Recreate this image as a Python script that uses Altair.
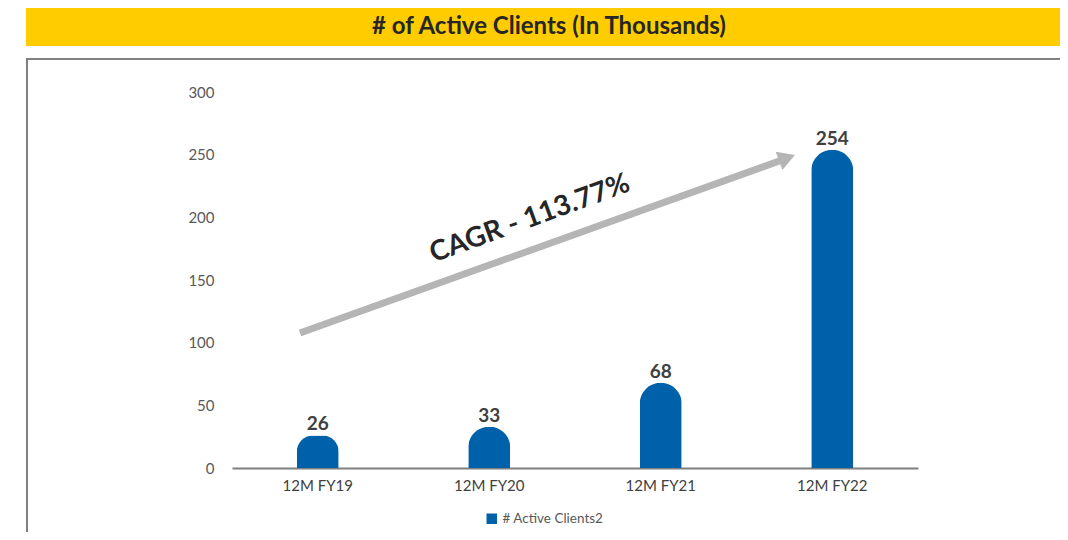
import altair as alt
import pandas as pd

# ---- data ----
categories = ["12M FY19", "12M FY20", "12M FY21", "12M FY22"]
clients = [26, 33, 68, 254]
series_name = ["# Active Clients2"] * len(categories)
y_ticks = [0, 50, 100, 150, 200, 250, 300]
title_text = "# of Active Clients (In Thousands)"
cagr_text = "CAGR - 113.77%"

df = pd.DataFrame({"period": categories, "clients": clients, "series": series_name})
one = pd.DataFrame({"k": [0]})

FONT = "Lato"
W, H = 686, 376

x_enc = alt.X(
    "period:N", sort=categories,
    scale=alt.Scale(paddingInner=0, paddingOuter=0),
    axis=alt.Axis(title=None, labelAngle=0, ticks=False, domainColor="#7f7f7f",
                  domainWidth=2, labelFont=FONT, labelFontSize=15,
                  labelColor="#404040", labelPadding=10),
)
y_enc = alt.Y(
    "clients:Q", scale=alt.Scale(domain=[0, 300]),
    axis=alt.Axis(title=None, values=y_ticks, grid=False, ticks=False, domain=False,
                  labelFont=FONT, labelFontSize=15, labelColor="#595959",
                  labelPadding=18),
)

# background: yellow title band and gray frame
band = alt.Chart(one).mark_rect(color="#FFCC00").encode(
    x=alt.value(-206), x2=alt.value(850), y=alt.value(-85), y2=alt.value(-46))
frame = alt.Chart(one).mark_rect(fill="white", fillOpacity=0, stroke="#808080", strokeWidth=2).encode(
    x=alt.value(-205), x2=alt.value(860), y=alt.value(-33), y2=alt.value(460))
title = alt.Chart(one).mark_text(text=title_text, font=FONT, fontSize=24, fontWeight="bold",
                                 color="#262626", align="center", baseline="middle").encode(
    x=alt.value(317), y=alt.value(-65))

bars = alt.Chart(df).mark_bar(size=42, cornerRadiusTopLeft=21, cornerRadiusTopRight=21).encode(
    x=x_enc, y=y_enc,
    color=alt.Color("series:N", scale=alt.Scale(range=["#0061AB"]),
                    legend=alt.Legend(title=None, orient="none", legendX=253, legendY=420,
                                      symbolType="square", symbolSize=110,
                                      symbolStrokeWidth=0,
                                      labelFont=FONT, labelFontSize=13.5,
                                      labelColor="#595959")),
)
labels = alt.Chart(df).mark_text(dy=-5, baseline="alphabetic", font=FONT, fontWeight="bold",
                                  fontSize=19, color="#404040").encode(
    x=alt.X("period:N", sort=categories), y="clients:Q", text="clients:Q")

shaft = alt.Chart(one).mark_rule(strokeWidth=7, color="#B5B5B5").encode(
    x=alt.value(68), y=alt.value(241), x2=alt.value(550), y2=alt.value(68))
head = alt.Chart(one).mark_point(shape="triangle-up", filled=True, size=380, angle=70,
                                 color="#B5B5B5", opacity=1).encode(
    x=alt.value(555), y=alt.value(66))
cagr = alt.Chart(one).mark_text(text=cagr_text, font=FONT, fontSize=28, fontWeight="bold",
                                color="#262626", angle=340, align="center",
                                baseline="middle").encode(
    x=alt.value(298), y=alt.value(127))

chart = alt.layer(band, frame, title, bars, labels, shaft, head, cagr).properties(
    width=W, height=H,
    padding={"left": 224, "top": 84, "right": 142, "bottom": 64},
    autosize=alt.AutoSizeParams(type="none"),
).configure_view(stroke=None)

chart.save("out.html", embed_options={"renderer": "svg", "actions": False})
